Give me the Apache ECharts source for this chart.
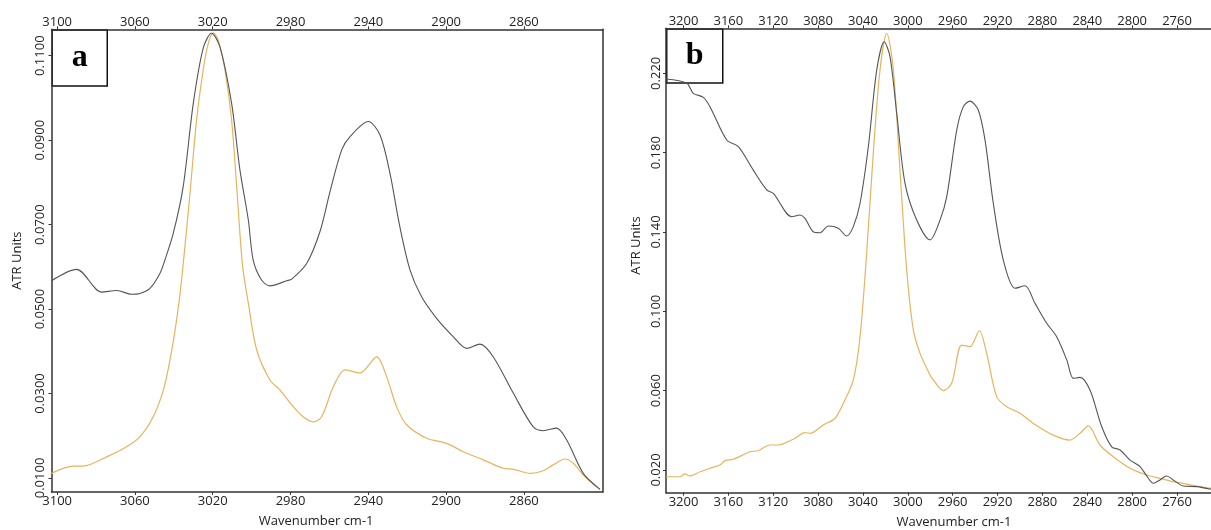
<!DOCTYPE html>
<html><head><meta charset="utf-8">
<script src="https://cdn.jsdelivr.net/npm/echarts@6/dist/echarts.min.js"></script>
<style>html,body{margin:0;padding:0;background:#fff}#c{width:1211px;height:530px}</style>
</head><body><div id="c"></div>
<script>
// ---- tick labels ----
const aXTicks = [3100, 3060, 3020, 2980, 2940, 2900, 2860];
const aYTicks = [0.01, 0.03, 0.05, 0.07, 0.09, 0.11];
const bXTicks = [3200, 3160, 3120, 3080, 3040, 3000, 2960, 2920, 2880, 2840, 2800, 2760];
const bYTicks = [0.02, 0.06, 0.10, 0.14, 0.18, 0.22];

// ---- panel a: [wavenumber, ATR units] ----
const aBlack = [
  [3102.9,0.0567],[3090.0,0.0594],[3077.1,0.0540],[3069.4,0.0544],[3061.7,0.0535],[3057.4,0.0537],
  [3052.3,0.0549],[3047.1,0.0585],[3044.6,0.0616],[3040.3,0.0679],[3035.2,0.0790],[3030.0,0.0987],
  [3024.9,0.1118],[3020.6,0.1153],[3016.3,0.1121],[3010.3,0.0987],[3006.0,0.0829],[3001.7,0.0711],
  [2999.2,0.0616],[2994.9,0.0569],[2990.6,0.0555],[2982.0,0.0567],[2979.4,0.0571],[2971.7,0.0608],
  [2964.9,0.0683],[2959.7,0.0778],[2953.7,0.0877],[2949.5,0.0908],[2940.0,0.0944],[2934.0,0.0912],
  [2928.9,0.0822],[2923.8,0.0695],[2918.6,0.0593],[2912.6,0.0529],[2904.9,0.0478],[2896.4,0.0435],
  [2889.5,0.0407],[2882.6,0.0417],[2875.8,0.0387],[2865.5,0.0301],[2855.2,0.0221],[2850.1,0.0212],
  [2843.2,0.0218],[2838.0,0.0190],[2829.5,0.0111],[2820.9,0.0073]
];
const aOrange = [
  [3102.9,0.0111],[3091.7,0.0128],[3086.6,0.0128],[3074.6,0.0150],[3064.3,0.0174],[3057.4,0.0198],
  [3050.6,0.0245],[3045.4,0.0308],[3042.0,0.0379],[3038.6,0.0474],[3036.0,0.0569],[3031.7,0.0774],
  [3028.3,0.0948],[3024.9,0.1066],[3022.3,0.1129],[3019.7,0.1154],[3017.2,0.1137],[3013.7,0.1066],
  [3010.3,0.0948],[3007.7,0.0790],[3004.7,0.0604],[3001.7,0.0514],[2997.4,0.0403],[2990.6,0.0332],
  [2985.4,0.0308],[2978.6,0.0269],[2973.5,0.0245],[2968.3,0.0233],[2964.0,0.0245],[2958.0,0.0316],
  [2952.0,0.0356],[2944.3,0.0349],[2935.7,0.0387],[2930.6,0.0340],[2925.5,0.0269],[2920.3,0.0226],
  [2910.0,0.0194],[2899.7,0.0182],[2891.2,0.0162],[2880.9,0.0143],[2870.6,0.0123],[2865.5,0.0121],
  [2856.9,0.0111],[2850.1,0.0117],[2845.0,0.0131],[2838.9,0.0145],[2834.6,0.0135],[2829.5,0.0107],
  [2820.9,0.0073]
];

// ---- panel b ----
const bBlack = [
  [3215.6,0.2171],[3197.1,0.2150],[3191.3,0.2099],[3182.3,0.2079],[3176.4,0.2032],[3161.5,0.1864],
  [3151.1,0.1830],[3137.8,0.1712],[3125.8,0.1612],[3119.9,0.1595],[3103.5,0.1477],[3096.1,0.1486],
  [3091.7,0.1469],[3084.3,0.1401],[3078.3,0.1396],[3070.9,0.1430],[3062.0,0.1419],[3054.5,0.1380],
  [3048.6,0.1427],[3042.6,0.1545],[3035.2,0.1830],[3027.7,0.2217],[3021.0,0.2359],[3015.9,0.2284],
  [3009.9,0.1998],[3002.5,0.1645],[2992.1,0.1460],[2980.2,0.1360],[2971.3,0.1460],[2965.3,0.1578],
  [2956.4,0.1914],[2950.5,0.2032],[2944.6,0.2060],[2937.2,0.2015],[2931.2,0.1864],[2923.8,0.1545],
  [2914.9,0.1259],[2904.4,0.1116],[2895.5,0.1129],[2886.6,0.1040],[2876.2,0.0940],[2867.3,0.0872],
  [2858.3,0.0755],[2852.5,0.0662],[2846.5,0.0667],[2837.6,0.0603],[2827.1,0.0418],[2818.2,0.0317],
  [2810.8,0.0301],[2801.9,0.0250],[2793.0,0.0217],[2787.0,0.0170],[2781.1,0.0133],[2775.2,0.0150],
  [2769.2,0.0170],[2763.3,0.0150],[2754.4,0.0119],[2742.4,0.0116],[2729.7,0.0103]
];
const bOrange = [
  [3215.6,0.0166],[3203.1,0.0166],[3198.7,0.0180],[3194.2,0.0170],[3185.3,0.0191],[3176.4,0.0209],
  [3167.5,0.0225],[3163.0,0.0247],[3155.6,0.0254],[3140.7,0.0292],[3133.3,0.0297],[3122.9,0.0326],
  [3115.5,0.0326],[3102.1,0.0355],[3091.7,0.0388],[3087.2,0.0385],[3075.4,0.0427],[3064.9,0.0461],
  [3057.5,0.0536],[3048.6,0.0654],[3042.6,0.0872],[3036.7,0.1293],[3030.8,0.1797],[3024.8,0.2217],
  [3018.8,0.2402],[3012.9,0.2217],[3007.0,0.1712],[3001.0,0.1208],[2995.1,0.0906],[2989.1,0.0788],
  [2980.2,0.0679],[2977.3,0.0654],[2968.4,0.0600],[2960.9,0.0637],[2952.0,0.0830],[2944.6,0.0822],
  [2936.3,0.0902],[2929.7,0.0788],[2920.8,0.0570],[2911.8,0.0519],[2900.0,0.0486],[2888.1,0.0435],
  [2870.3,0.0376],[2855.4,0.0351],[2846.5,0.0385],[2839.1,0.0422],[2828.7,0.0326],[2816.8,0.0267],
  [2801.9,0.0209],[2787.0,0.0175],[2775.2,0.0158],[2763.3,0.0141],[2751.4,0.0129],[2739.5,0.0116],
  [2729.7,0.0107]
];

const FONT = 'Open Sans';
const AX = '#333';
const BLACK = '#555555';
const GOLD = '#E6B45E';

function xAxisDef(grid, pos, min, max, ticks, withName, namePad) {
  return {
    type: 'value', gridIndex: grid, position: pos, inverse: true, min: min, max: max,
    name: withName ? 'Wavenumber cm-1' : '', nameLocation: 'middle', nameGap: 23,
    nameTextStyle: { fontFamily: FONT, fontSize: 13, color: '#222', padding: namePad },
    axisLine: { show: true, onZero: false, lineStyle: { color: AX, width: 1.5 } },
    axisTick: { show: true, length: 3, inside: false, customValues: ticks, lineStyle: { color: AX } },
    axisLabel: { customValues: ticks, fontFamily: FONT, fontSize: 13, color: '#222',
      margin: pos === 'top' ? 1 : 3, formatter: v => String(v) },
    splitLine: { show: false }
  };
}
function yAxisDef(grid, min, max, ticks, dec, nameGap, namePad, labelMargin) {
  return {
    type: 'value', gridIndex: grid, position: 'left', min: min, max: max,
    name: 'ATR Units', nameLocation: 'middle', nameGap: nameGap, nameRotate: 90,
    nameTextStyle: { fontFamily: FONT, fontSize: 13, color: '#222', padding: namePad },
    axisLine: { show: true, onZero: false, lineStyle: { color: AX, width: 1.5 } },
    axisTick: { show: true, length: 3, customValues: ticks, lineStyle: { color: AX } },
    axisLabel: { customValues: ticks, rotate: 90, align: 'center', verticalAlign: 'bottom',
      fontFamily: FONT, fontSize: 13, color: '#222', margin: labelMargin,
      formatter: v => v.toFixed(dec) },
    splitLine: { show: false }
  };
}

const chart = echarts.init(document.getElementById('c'), null, { renderer: 'canvas' });
chart.setOption({
  animation: false,
  backgroundColor: '#fff',
  grid: [
    { left: 51.5, top: 29.3, right: 608.3, bottom: 38, outerBoundsMode: 'none', containLabel: false },
    { left: 666, top: 28.3, right: 0, bottom: 37.3, outerBoundsMode: 'none', containLabel: false }
  ],
  xAxis: [
    xAxisDef(0, 'bottom', 2819.5, 3102.9, aXTicks, true, [0, 22, 0, 0]),
    xAxisDef(0, 'top', 2819.5, 3102.9, aXTicks, false, 0),
    xAxisDef(1, 'bottom', 2729.7, 3215.6, bXTicks, true, [0, 0, 0, 31]),
    xAxisDef(1, 'top', 2729.7, 3215.6, bXTicks, false, 0)
  ],
  yAxis: [
    yAxisDef(0, 0.00668, 0.11625, aYTicks, 4, 27.5, 0, 5),
    { type: 'value', gridIndex: 0, position: 'right', min: 0.00668, max: 0.11625,
      axisLine: { show: true, onZero: false, lineStyle: { color: AX, width: 1.5 } },
      axisTick: { show: false }, axisLabel: { show: false }, splitLine: { show: false } },
    yAxisDef(1, 0.00855, 0.2427, bYTicks, 3, 23, [0, 0, 0, 30], 3)
  ],
  series: [
    { type: 'line', xAxisIndex: 0, yAxisIndex: 0, data: aOrange, showSymbol: false, smooth: 0.3,
      lineStyle: { color: GOLD, width: 1.2 }, z: 2 },
    { type: 'line', xAxisIndex: 0, yAxisIndex: 0, data: aBlack, showSymbol: false, smooth: 0.3,
      lineStyle: { color: BLACK, width: 1.1 }, z: 3 },
    { type: 'line', xAxisIndex: 2, yAxisIndex: 2, data: bOrange, showSymbol: false, smooth: 0.3,
      lineStyle: { color: GOLD, width: 1.2 }, z: 2 },
    { type: 'line', xAxisIndex: 2, yAxisIndex: 2, data: bBlack, showSymbol: false, smooth: 0.3,
      lineStyle: { color: BLACK, width: 1.1 }, z: 3 }
  ],
  graphic: [
    { type: 'group', left: 51.5, top: 29.3, z: 100, children: [
      { type: 'rect', shape: { x: 0, y: 0, width: 55, height: 56 },
        style: { fill: '#fff', stroke: '#111', lineWidth: 1.5 } },
      { type: 'text', x: 27.5, y: 28, style: { text: 'a', fontFamily: 'Liberation Serif', fontWeight: 'bold',
        fontSize: 32, fill: '#000', align: 'center', verticalAlign: 'middle' } }
    ]},
    { type: 'group', left: 666, top: 28.3, z: 100, children: [
      { type: 'rect', shape: { x: 0, y: 0, width: 56, height: 54 },
        style: { fill: '#fff', stroke: '#111', lineWidth: 1.5 } },
      { type: 'text', x: 28, y: 27, style: { text: 'b', fontFamily: 'Liberation Serif', fontWeight: 'bold',
        fontSize: 32, fill: '#000', align: 'center', verticalAlign: 'middle' } }
    ]}
  ]
});
</script></body></html>
